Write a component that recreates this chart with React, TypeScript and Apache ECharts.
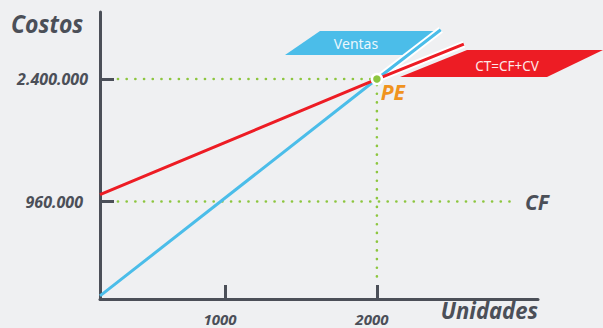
import React, { useEffect, useRef } from "react";
import * as echarts from "echarts";

// ---- data ----
const unitTicks = [1000, 2000];
const costTicks = [960000, 2400000];
const breakEven = [2000, 2400000];
const ventasLine = [[178, -150000], [2000, 2400000], [2420, 2980000]];
const costLine = [[178, 1040000], [2000, 2400000], [2572, 2810000]];
const fixedGuide = [[296, 960000], [2895, 960000]];
const peHGuide = [[296, 2400000], [2000, 2400000]];
const peVGuide = [[2000, 2330000], [2000, 20000]];

const AXIS = "#4b4f58";
const GREEN = "#8dc63f";
const BLUE = "#4bbde9";
const RED = "#ed1c24";
const FONT = "Noto Sans";

const fmtThousands = (v: number) =>
  String(Math.round(v)).replace(/\B(?=(\d{3})+(?!\d))/g, ".");

const dotted = {
  color: GREEN,
  width: 2.6,
  type: [0.1, 8.6],
  cap: "round",
};

export default function App() {
  const ref = useRef<HTMLDivElement>(null);
  useEffect(() => {
    if (!ref.current) return;
    const chart = echarts.init(ref.current, undefined, { renderer: "svg" });
    const italicBold = {
      fontFamily: FONT,
      fontStyle: "italic",
      fontWeight: "bold",
      color: AXIS,
    };
    chart.setOption({
      animation: false,
      backgroundColor: "#eff0f2",
      grid: { left: 100, right: 65, top: 12, bottom: 29 },
      xAxis: {
        type: "value",
        min: 178,
        max: 3060,
        axisLine: { show: true, onZero: false, lineStyle: { color: AXIS, width: 3 } },
        axisTick: {
          show: true,
          inside: true,
          length: 14,
          customValues: unitTicks,
          lineStyle: { color: AXIS, width: 3 },
        },
        axisLabel: {
          ...italicBold,
          customValues: unitTicks,
          formatter: (v: number) => String(v),
          fontSize: 15,
          margin: 12,
          padding: [0, 10, 0, 0],
        },
        splitLine: { show: false },
      },
      yAxis: {
        type: "value",
        min: -186000,
        max: 3188000,
        axisLine: { show: true, onZero: false, lineStyle: { color: AXIS, width: 3 } },
        axisTick: {
          show: true,
          inside: true,
          length: 14,
          customValues: costTicks,
          lineStyle: { color: AXIS, width: 3 },
        },
        axisLabel: {
          ...italicBold,
          customValues: costTicks,
          formatter: (v: number) =>
            v < 2000000 ? `{s|${fmtThousands(v)}}` : `{b|${fmtThousands(v)}}`,
          fontSize: 16,
          margin: 12,
          rich: {
            s: { ...italicBold, fontSize: 16, padding: [0, 5, 0, 0] },
            b: { ...italicBold, fontSize: 16 },
          },
        },
        splitLine: { show: false },
      },
      series: [
        {
          type: "line",
          data: peHGuide,
          symbol: "none",
          silent: true,
          lineStyle: dotted,
        },
        {
          type: "line",
          data: peVGuide,
          symbol: "none",
          silent: true,
          lineStyle: dotted,
        },
        {
          type: "line",
          data: fixedGuide,
          symbol: "none",
          silent: true,
          lineStyle: dotted,
          endLabel: {
            show: true,
            formatter: "CF",
            distance: 12,
            ...italicBold,
            fontSize: 21,
          },
        },
        {
          type: "line",
          data: ventasLine.slice(1),
          symbol: "none",
          silent: true,
          lineStyle: { color: "#ffffff", width: 7 },
        },
        {
          type: "line",
          data: costLine.slice(1),
          symbol: "none",
          silent: true,
          lineStyle: { color: "#ffffff", width: 7 },
        },
        {
          type: "line",
          name: "Ventas",
          data: ventasLine,
          symbol: "none",
          lineStyle: { color: BLUE, width: 3 },
        },
        {
          type: "line",
          name: "CT",
          data: costLine,
          symbol: "none",
          lineStyle: { color: RED, width: 3 },
        },
        {
          type: "scatter",
          data: [breakEven],
          symbolSize: 10,
          z: 5,
          itemStyle: { color: GREEN, borderColor: "#ffffff", borderWidth: 2.5, opacity: 1 },
          label: {
            show: true,
            formatter: "PE",
            position: [10, 9],
            align: "left",
            verticalAlign: "top",
            fontFamily: FONT,
            fontStyle: "italic",
            fontWeight: "bold",
            fontSize: 21,
            color: "#f0931e",
          },
        },
      ],
      graphic: [
        {
          type: "polygon",
          shape: { points: [[320, 31], [436, 31], [412, 55], [285, 55]] },
          style: { fill: BLUE },
          z: 1,
        },
        {
          type: "text",
          x: 356,
          y: 43,
          style: {
            text: "Ventas",
            fill: "#eaf7fd",
            fontFamily: FONT,
            fontSize: 14,
            align: "center",
            verticalAlign: "middle",
          },
          z: 2,
        },
        {
          type: "polygon",
          shape: { points: [[467, 50], [603, 50], [547, 77], [400, 77]] },
          style: { fill: RED },
          z: 1,
        },
        {
          type: "text",
          x: 507,
          y: 66,
          style: {
            text: "CT=CF+CV",
            fill: "#fde8e8",
            fontFamily: FONT,
            fontSize: 13.5,
            align: "center",
            verticalAlign: "middle",
          },
          z: 2,
        },
        {
          type: "text",
          x: 11,
          y: 23,
          scaleX: 0.92,
          style: {
            text: "Costos",
            fill: AXIS,
            fontFamily: FONT,
            fontStyle: "italic",
            fontWeight: "bold",
            fontSize: 25,
            align: "left",
            verticalAlign: "middle",
          },
        },
        {
          type: "text",
          x: 538,
          y: 310,
          scaleX: 0.92,
          style: {
            text: "Unidades",
            fill: AXIS,
            fontFamily: FONT,
            fontStyle: "italic",
            fontWeight: "bold",
            fontSize: 24,
            lineHeight: 24,
            align: "right",
            verticalAlign: "middle",
          },
        },
      ],
    });
    return () => chart.dispose();
  }, []);
  return (
    <div
      ref={ref}
      style={{ position: "fixed", left: 0, top: 0, width: 603, height: 328 }}
    />
  );
}
